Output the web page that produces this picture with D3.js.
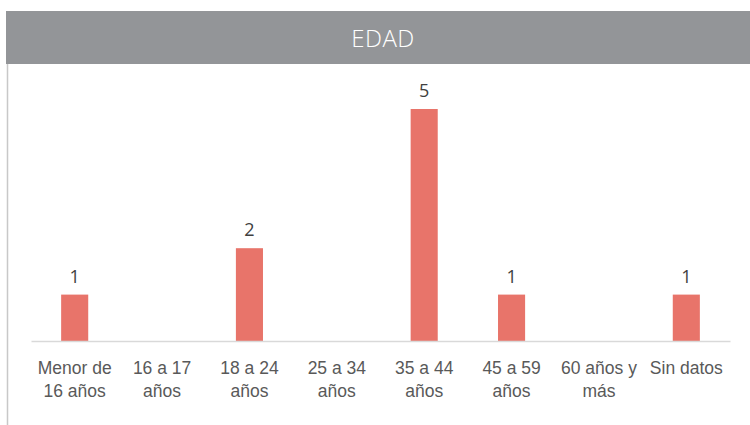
<!DOCTYPE html>
<html>
<head>
<meta charset="utf-8">
<script src="https://cdn.jsdelivr.net/npm/d3@7"></script>
<style>
  body { margin: 0; background: #fff; }
  svg { display: block; font-family: "Open Sans", "Noto Sans", sans-serif; }
</style>
</head>
<body>
<div id="chart"></div>
<script>
/* Data */
const categories = ["Menor de 16 años", "16 a 17 años", "18 a 24 años", "25 a 34 años",
                    "35 a 44 años", "45 a 59 años", "60 años y más", "Sin datos"];
const labelLines = [["Menor de", "16 años"], ["16 a 17", "años"], ["18 a 24", "años"], ["25 a 34", "años"],
                    ["35 a 44", "años"], ["45 a 59", "años"], ["60 años y", "más"], ["Sin datos"]];
const values = [1, 0, 2, 0, 5, 1, 0, 1];
const title = "EDAD";

const width = 750, height = 425;
const margins = {top: 109, right: 20, bottom: 84, left: 31};

const svg = d3.select("#chart")
    .append("svg")
    .attr("width", width)
    .attr("height", height);

/* header bar */
svg.append("rect")
    .attr("x", 6).attr("y", 11)
    .attr("width", width - 6).attr("height", 53)
    .attr("fill", "#939598");
svg.append("text")
    .attr("x", 383).attr("y", 47)
    .attr("text-anchor", "middle")
    .attr("fill", "#fff")
    .style("font-size", "24px")
    .style("font-weight", 300)
    .style("letter-spacing", "0.5px")
    .text(title);

/* left border of the panel */
svg.append("line")
    .attr("x1", 7.5).attr("x2", 7.5)
    .attr("y1", 64).attr("y2", height)
    .attr("stroke", "#c8c8c8")
    .attr("stroke-width", 1.5);

/* scales */
const xScale = d3.scaleBand()
    .domain(categories)
    .range([margins.left, 730])
    .paddingInner(0.69)
    .paddingOuter(0.345);
const yScale = d3.scaleLinear()
    .domain([0, d3.max(values)])
    .range([height - margins.bottom, margins.top]);

const data = categories.map((c, i) => ({cat: c, value: values[i], lines: labelLines[i]}));

/* bars */
svg.append("g")
    .selectAll("rect")
    .data(data.filter(d => d.value > 0))
    .join("rect")
    .attr("x", d => xScale(d.cat))
    .attr("y", d => yScale(d.value))
    .attr("width", xScale.bandwidth())
    .attr("height", d => yScale(0) - yScale(d.value))
    .attr("fill", "#e8746a");

/* value labels */
svg.append("g")
    .selectAll("text")
    .data(data.filter(d => d.value > 0))
    .join("text")
    .attr("x", d => xScale(d.cat) + xScale.bandwidth() / 2)
    .attr("y", d => yScale(d.value) - 12)
    .attr("text-anchor", "middle")
    .attr("fill", "#404040")
    .style("font-size", "18px")
    .text(d => d.value);

/* x axis */
const xAxis = d3.axisBottom(xScale).tickSize(0).tickFormat("");
const xGroup = svg.append("g")
    .attr("transform", `translate(0, ${yScale(0)})`)
    .call(xAxis);
xGroup.select(".domain").attr("stroke", "#d9d9d9").attr("stroke-width", 1.5);

xGroup.selectAll(".tick")
    .append("text")
    .attr("fill", "#595959")
    .attr("text-anchor", "middle")
    .style("font-size", "17.5px")
    .selectAll("tspan")
    .data(c => labelLines[categories.indexOf(c)])
    .join("tspan")
    .attr("x", 0)
    .attr("y", (d, i) => 33 + i * 23)
    .text(d => d);
</script>
</body>
</html>
